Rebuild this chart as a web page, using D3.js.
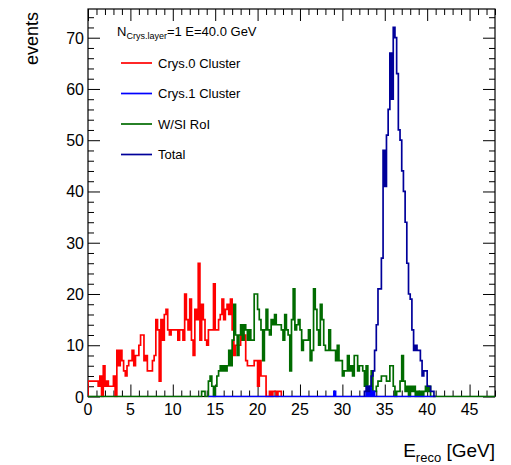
<!DOCTYPE html>
<html><head><meta charset="utf-8">
<script src="https://cdn.jsdelivr.net/npm/d3@7"></script>
<style>
html,body{margin:0;padding:0;background:#fff;}
svg{display:block;font-family:"Liberation Sans",Arial,Helvetica,sans-serif;}
</style></head>
<body><svg id="c" width="511" height="465"></svg>
<script>
// ---- data ----
const binWidth = 0.2;          // GeV
const xDomain = [0, 48];
const yDomain = [0, 75.6];
const xMajorTicks = [0, 5, 10, 15, 20, 25, 30, 35, 40, 45];
const yMajorTicks = [0, 10, 20, 30, 40, 50, 60, 70];
const seriesNames = ["Crys.0 Cluster", "Crys.1 Cluster", "W/SI RoI", "Total"];
const seriesColors = ["#ff0000", "#0000ff", "#006b00", "#00009a"];
const titleMain = "N";
const titleSub = "Crys.layer";
const titleRest = "=1 E=40.0 GeV";

// Crys.0 Cluster, bins from 0
const crys0Start = 0;
const crys0 = [3,3,3,3,3,3,2,4,0,6,2,3,2,2,2,4,0,9,6,9,
  7,5,4,6,7,7,9,6,8,8,10,12,12,7,8,5,5,5,7,8,
  15,13,3,15,11,16,17,13,12,13,13,13,13,11,13,13,11,20,15,13,
  19,11,8,17,15,26,11,18,15,11,10,13,13,13,22,13,13,15,16,19,
  15,17,18,16,19,13,8,10,10,10,12,11,12,7,6,6,6,6,7,7,
  2,7,4,4,4,0,0,1,0,1,1,0,1,1];
// Crys.1 Cluster, bins from 71
const crys1Start = 71;
const crys1 = [0,0,0,0,0,0,0,0,0,0,0,0,0,0,0,0,0,0,0,0,
  0,0,0,0,0,0,0,0,0,0,0,0,0,0,0,0,0,0,0,0,
  0,0,0,0,0,0,0,0,0,0,0,0,0,0,0,0,0,0,0,0,
  0,0,0,0,0,0,0,0,0,0,0,0,0,0,1,0,0,0,0,0,
  0,0,0,0,0,0,0,0,0,0,0,0,0,1,0,2,0,1,0,0,
  0,0,0,0,0,0,0,0,0,0,0,0,0,0,0,0,0,0,0,0,
  0,0,0,0,0,0,0,0,0,0,0,0,0,0];
// W/SI RoI, bins from 0
const wsiStart = 0;
const wsi = [0,0,0,0,0,0,0,0,0,0,0,0,0,0,0,0,0,0,0,0,
  0,0,0,0,0,0,0,0,0,0,0,0,0,0,0,0,0,0,0,0,
  0,0,0,0,0,0,0,0,0,0,0,0,0,0,0,0,0,0,0,0,
  0,0,0,0,0,0,0,1,1,0,0,3,4,2,0,2,4,5,6,5,
  6,5,6,9,6,11,18,12,8,12,14,11,14,13,11,13,11,11,20,20,
  17,15,13,7,13,17,13,12,15,14,16,14,14,14,13,11,16,13,12,5,
  15,21,13,14,15,13,9,11,11,11,13,7,9,21,17,13,10,18,15,10,
  9,9,13,9,9,9,7,10,7,7,4,5,5,8,5,6,4,8,8,5,
  6,6,5,2,6,1,1,5,1,1,2,3,3,4,4,4,3,3,6,6,
  2,0,1,1,3,8,3,1,2,0,2,1,2,0,1,0,1,0,1,2,
  1,2,0,0,0,0,0,0,0,0,0,0,0,0,0,0,0,0,0,0,
  0,0,0,0,0,0,0,0,0,0,0,0,0,0,0,0,0,0,0,0];
// Total, bins from 163
const totalStart = 163;
const total = [1,2,1,2,4,5,9,14,21,21,27,48,41,51,56,67,58,72,70,63,
  52,50,44,40,34,26,20,19,13,9,10,9,9,7,4,5,5,2,2,1,1,0];

// ---- layout ----
const svg = d3.select("#c");
const L = 88, R = 495, T = 9, B = 396.5;
const x = d3.scaleLinear().domain(xDomain).range([L, R]);
const y = d3.scaleLinear().domain(yDomain).range([B, T]);

// frame
svg.append("rect").attr("x", L).attr("y", T).attr("width", R - L).attr("height", B - T)
  .attr("fill", "none").attr("stroke", "#000").attr("stroke-width", 1.2);

// ticks via d3 axes
const xMinor = d3.range(0, 49, 1).filter(v => v % 5 !== 0);
const yMinor = d3.range(0, 76, 2).filter(v => v % 10 !== 0);
const tickStyle = g => { g.select(".domain").remove(); g.selectAll("line").attr("stroke", "#000").attr("stroke-width", 1); };

svg.append("g").attr("transform", `translate(0,${B})`)
  .call(d3.axisTop(x).tickValues(xMajorTicks).tickSize(12).tickFormat("")).call(tickStyle);
svg.append("g").attr("transform", `translate(0,${B})`)
  .call(d3.axisTop(x).tickValues(xMinor).tickSize(6).tickFormat("")).call(tickStyle);
svg.append("g").attr("transform", `translate(0,${T})`)
  .call(d3.axisBottom(x).tickValues(xMajorTicks).tickSize(12).tickFormat("")).call(tickStyle);
svg.append("g").attr("transform", `translate(0,${T})`)
  .call(d3.axisBottom(x).tickValues(xMinor).tickSize(6).tickFormat("")).call(tickStyle);
svg.append("g").attr("transform", `translate(${L},0)`)
  .call(d3.axisRight(y).tickValues(yMajorTicks).tickSize(12).tickFormat("")).call(tickStyle);
svg.append("g").attr("transform", `translate(${L},0)`)
  .call(d3.axisRight(y).tickValues(yMinor).tickSize(6).tickFormat("")).call(tickStyle);
svg.append("g").attr("transform", `translate(${R},0)`)
  .call(d3.axisLeft(y).tickValues(yMajorTicks).tickSize(12).tickFormat("")).call(tickStyle);
svg.append("g").attr("transform", `translate(${R},0)`)
  .call(d3.axisLeft(y).tickValues(yMinor).tickSize(6).tickFormat("")).call(tickStyle);

// tick labels
svg.append("g").selectAll("text").data(xMajorTicks).join("text")
  .attr("x", d => x(d)).attr("y", B + 18).attr("text-anchor", "middle")
  .attr("font-size", 16).text(d => d);
svg.append("g").selectAll("text").data(yMajorTicks).join("text")
  .attr("x", L - 4).attr("y", d => y(d) + 6).attr("text-anchor", "end")
  .attr("font-size", 16).text(d => d);

// histograms
const clip = svg.append("clipPath").attr("id", "fr").append("rect")
  .attr("x", L).attr("y", T - 1).attr("width", R - L).attr("height", B - T + 2);
function histPoints(start, vals) {
  const pts = [[start * binWidth, 0]];
  vals.forEach((v, i) => {
    const lo = (start + i) * binWidth, hi = (start + i + 1) * binWidth;
    pts.push([lo, v]); pts.push([hi, v]);
  });
  pts.push([(start + vals.length) * binWidth, 0]);
  return pts;
}
const line = d3.line().x(d => x(d[0])).y(d => y(d[1]));
const hists = [
  {s: crys0Start, v: crys0, c: seriesColors[0]},
  {s: wsiStart, v: wsi, c: seriesColors[2]},
  {s: crys1Start, v: crys1, c: seriesColors[1]},
  {s: totalStart, v: total, c: seriesColors[3]}
];
const hg = svg.append("g").attr("clip-path", "url(#fr)");
hists.forEach(h => {
  hg.append("path").attr("d", line(histPoints(h.s, h.v)))
    .attr("fill", "none").attr("stroke", h.c).attr("stroke-width", 1.7)
    .attr("stroke-linejoin", "miter");
});

// legend
const tt = svg.append("text").attr("x", 117).attr("y", 35.5).attr("font-size", 13);
tt.append("tspan").text(titleMain);
tt.append("tspan").attr("font-size", 9).attr("dy", 3).text(titleSub);
tt.append("tspan").attr("dy", -3).text(titleRest);
const legY = [63, 93.5, 124, 154.5];
const legend = svg.append("g");
seriesNames.forEach((n, i) => {
  legend.append("line").attr("x1", 121).attr("x2", 152).attr("y1", legY[i]).attr("y2", legY[i])
    .attr("stroke", seriesColors[i]).attr("stroke-width", 1.7);
  legend.append("text").attr("x", 158).attr("y", legY[i] + 4.5).attr("font-size", 13).text(n);
});

// axis titles
svg.append("text").attr("transform", "translate(38,12) rotate(-90)")
  .attr("text-anchor", "end").attr("font-size", 18).text("events");
const xt = svg.append("text").attr("x", R).attr("y", 457).attr("text-anchor", "end").attr("font-size", 19);
xt.append("tspan").text("E");
xt.append("tspan").attr("font-size", 13).attr("dy", 5).text("reco");
xt.append("tspan").attr("dy", -5).text(" [GeV]");
</script></body></html>
